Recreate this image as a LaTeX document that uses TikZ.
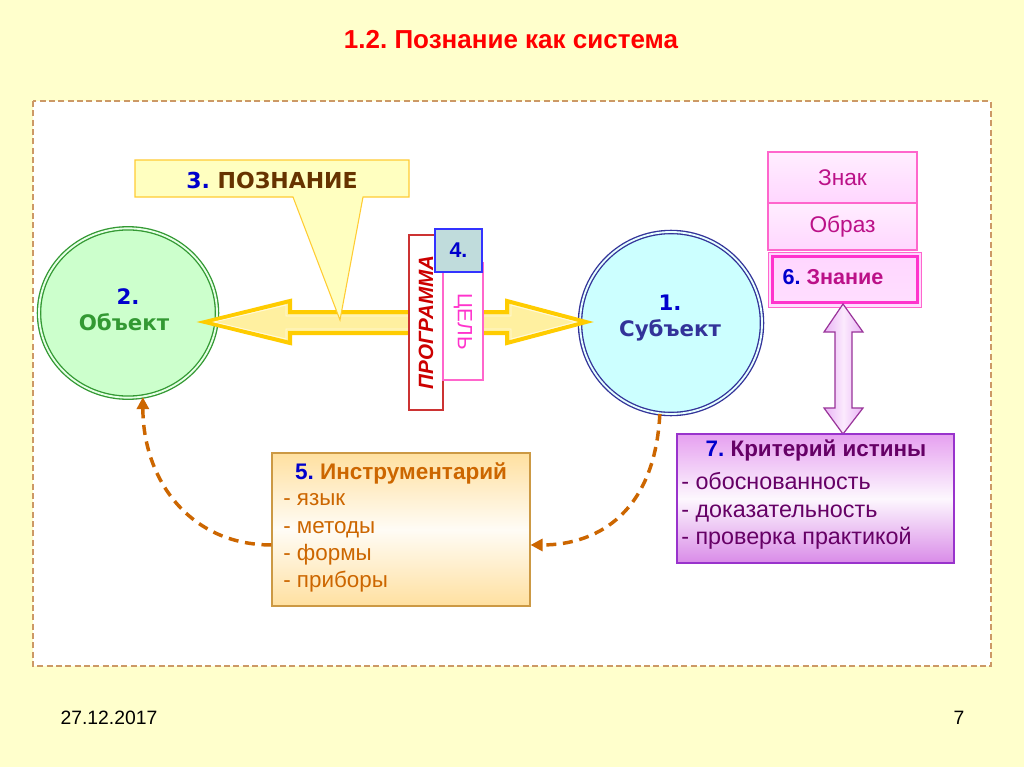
\documentclass[tikz,border=0pt]{standalone}
\usepackage{fontspec}
\setmainfont{Liberation Sans}
\newfontfamily\dvs{DejaVu Sans}
\frenchspacing
\usetikzlibrary{arrows.meta,shapes.geometric}
\definecolor{bg}{HTML}{FFFFCC}
\definecolor{frametan}{HTML}{CC9966}
\definecolor{titlered}{HTML}{FF0000}
\definecolor{numblue}{HTML}{0000CC}
\definecolor{objgreen}{HTML}{339933}
\definecolor{objfill}{HTML}{CCFFCC}
\definecolor{subjnavy}{HTML}{333399}
\definecolor{subjfill}{HTML}{CCFFFF}
\definecolor{gold}{HTML}{FFCC00}
\definecolor{arrowfill}{HTML}{FFF0A0}
\definecolor{calloutfill}{HTML}{FFFFC0}
\definecolor{calloutline}{HTML}{FFCC33}
\definecolor{brown}{HTML}{663300}
\definecolor{progred}{HTML}{CC0000}
\definecolor{progline}{HTML}{CC3333}
\definecolor{celpink}{HTML}{FF33CC}
\definecolor{celline}{HTML}{FF66CC}
\definecolor{fourfill}{HTML}{C0DCDC}
\definecolor{fourline}{HTML}{3333FF}
\definecolor{signtext}{HTML}{BB1188}
\definecolor{pinkline}{HTML}{FF66CC}
\definecolor{pinkthick}{HTML}{FF33CC}
\definecolor{pinklight}{HTML}{FFEEFF}
\definecolor{pinkmid}{HTML}{FFD6FF}
\definecolor{lav}{HTML}{E9B3F5}
\definecolor{lavlight}{HTML}{FBEAFD}
\definecolor{purpleline}{HTML}{993399}
\definecolor{critline}{HTML}{9933CC}
\definecolor{crittop}{HTML}{E6A0F0}
\definecolor{critbot}{HTML}{D98BE8}
\definecolor{crittext}{HTML}{660066}
\definecolor{instrfill}{HTML}{FFE0A0}
\definecolor{instrline}{HTML}{CC9944}
\definecolor{instrtext}{HTML}{CC6600}
\definecolor{dasharrow}{HTML}{CC6600}
\tikzset{
  boxtext/.style={inner sep=0pt},
  flowarrow/.style={draw=dasharrow, line width=2.6pt, dash pattern=on 7.5pt off 5pt,
     -{Triangle[length=9pt,width=9pt]}},
  pinkbox/.style={draw=pinkline, line width=0.8pt, top color=pinklight, bottom color=pinkmid,
     minimum width=111.75pt, inner sep=0pt},
  circtext/.style={font=\dvs\bfseries\fontsize{16}{18}\selectfont}
}
\begin{document}
\begin{tikzpicture}[x=0.75pt,y=-0.75pt]
\useasboundingbox (0,0) rectangle (1024,767);
\fill[bg] (0,0) rectangle (1024,767);

% title
\node[font=\fontsize{19.5}{22}\selectfont\bfseries, text=titlered] (title) at (511,40) {1.2. Познание как система};

% frame
\draw[fill=white, draw=frametan, line width=1pt, dash pattern=on 4.5pt off 2.5pt] (33,101) rectangle (991,666);

% circles
\node[ellipse, draw=objgreen, double=objfill!50!white, double distance=1.4pt, line width=1pt,
      fill=objfill, minimum width=133.5pt, minimum height=127pt, inner sep=0pt] (obj) at (128,313) {};
\node[circle, draw=subjnavy, double=subjfill!50!white, double distance=1.4pt, line width=1pt,
      fill=subjfill, minimum size=136.5pt, inner sep=0pt] (subj) at (671,323) {};

% circle texts
\node[circtext, text=numblue] (objnum) at (128,297) {2.};
\node[circtext, text=objgreen] (objtxt) at (124,322) {Объект};
\node[circtext, text=numblue] (subjnum) at (670,303) {1.};
\node[circtext, text=subjnavy] (subjtxt) at (670,330) {Субъект};

% big yellow double arrow between object and subject
\filldraw[fill=arrowfill, draw=gold, line width=3pt, line join=miter]
  (205,322) -- (290,301) -- (290,312) -- (507,312) -- (507,301) -- (586,322)
  -- (507,343) -- (507,333) -- (290,333) -- (290,343) -- cycle;
\draw[draw=white!60!arrowfill, line width=0.7pt]
  (214,322) -- (286,305) -- (286,316) -- (511,316) -- (511,305) -- (576,322)
  -- (511,339) -- (511,329) -- (286,329) -- (286,339) -- cycle;

% callout 3. ПОЗНАНИЕ
\filldraw[fill=calloutfill, draw=calloutline, line width=0.8pt, line join=miter]
  (135,160) -- (409,160) -- (409,197) -- (363,197) -- (340,320) -- (293,197) -- (135,197) -- cycle;
\node[font=\dvs\bfseries\fontsize{16.5}{18}\selectfont, text=brown] (pozn) at (272,180)
  {\textcolor{numblue}{3.} ПОЗНАНИЕ};

% program / goal / 4
\node[rotate=90, draw=progline, fill=white, line width=0.8pt, minimum width=131.25pt,
      minimum height=25.5pt, inner sep=0pt, text=progred,
      font=\bfseries\itshape\fontsize{15.5}{18}\selectfont] (prog) at (426,322.5) {ПРОГРАММА};
\node[rotate=-90, draw=celline, fill=white, line width=0.8pt, minimum width=87.75pt,
      minimum height=30pt, inner sep=0pt, text=celpink,
      font=\fontsize{15.5}{18}\selectfont] (cel) at (463,321.5) {ЦЕЛЬ};
\node[draw=fourline, fill=fourfill, line width=0.8pt, minimum width=35.25pt, minimum height=32.25pt,
      inner sep=0pt, text=numblue, font=\bfseries\fontsize{16}{18}\selectfont] (four) at (458.5,250.5) {4.};

% sign / image / knowledge
\node[pinkbox, minimum height=38.25pt, text=signtext, font=\fontsize{17}{19}\selectfont] (znak) at (842.5,177.5) {Знак};
\node[pinkbox, minimum height=35.25pt, text=signtext, font=\fontsize{17}{19}\selectfont] (obraz) at (842.5,226.5) {Образ};
\node[draw=pinkline, line width=0.7pt, top color=pinkmid, bottom color=pinkmid!80!white,
      minimum width=114.75pt, minimum height=41.25pt, inner sep=0pt] (znanie) at (844.5,279.5) {};
\draw[draw=pinkthick, line width=2.3pt] ([shift={(3.6pt,-3.6pt)}]znanie.north west) rectangle ([shift={(-3.3pt,3.5pt)}]znanie.south east);
\node[font=\bfseries\fontsize{16.2}{18}\selectfont, text=signtext] (znanietxt) at (833,277)
  {\textcolor{numblue}{6.} Знание};

% vertical double arrow
\draw[draw=purpleline, line width=0.9pt, left color=lav, right color=lav, middle color=lavlight, line join=miter]
  (843,304) -- (863,332) -- (852,332) -- (852,408) -- (863,408) -- (843,434)
  -- (824,408) -- (835,408) -- (835,332) -- (824,332) -- cycle;

% criterion box
\node[draw=critline, line width=0.8pt, top color=crittop, bottom color=critbot, middle color=white!92!crittop,
      minimum width=207.75pt, minimum height=96.75pt, inner sep=0pt] (krit) at (815.5,498.5) {};
\node[boxtext, font=\bfseries\fontsize{16.8}{20.5}\selectfont, text=crittext] (krittitle) at (816,450)
  {\textcolor{numblue}{7.} Критерий истины};
\node[boxtext, font=\fontsize{17.5}{20.6}\selectfont, anchor=west, align=left, text=crittext] (kritlist) at (681,511)
  {- обоснованность\\- доказательность\\- проверка практикой};

% instruments box
\node[draw=instrline, line width=0.8pt, top color=instrfill, bottom color=instrfill, middle color=white!90!instrfill,
      minimum width=193.5pt, minimum height=114.75pt, inner sep=0pt] (instr) at (401,529.5) {};
\node[boxtext, font=\bfseries\fontsize{16.9}{20.5}\selectfont, text=instrtext] (instrtitle) at (401,473)
  {\textcolor{numblue}{5.} Инструментарий};
\node[boxtext, font=\fontsize{16.8}{20.4}\selectfont, anchor=west, align=left, text=instrtext] (instrlist) at (283,543)
  {- язык\\- методы\\- формы\\- приборы};

% dashed flow arrows
\draw[flowarrow] (subj.-97) .. controls (655,510) and (600,545) .. ([yshift=-11.6pt]instr.east);
\draw[flowarrow] ([yshift=-11.6pt]instr.west) .. controls (190,545) and (143,480) .. (obj.-80);

% footer
\node[font=\fontsize{14.5}{16}\selectfont] (date) at (109,718) {27.12.2017};
\node[font=\fontsize{14.5}{16}\selectfont] (page) at (959,718) {7};
\end{tikzpicture}
\end{document}
